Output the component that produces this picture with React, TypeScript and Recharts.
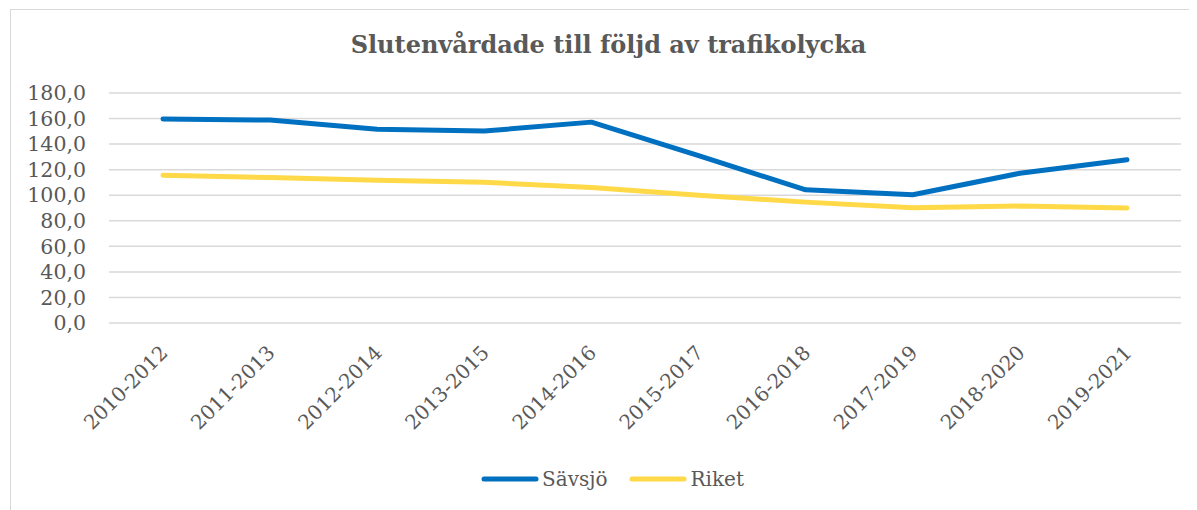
import React from "react";
import { LineChart, Line, XAxis, YAxis, CartesianGrid, Legend } from "recharts";

const categories = [
  "2010-2012", "2011-2013", "2012-2014", "2013-2015", "2014-2016",
  "2015-2017", "2016-2018", "2017-2019", "2018-2020", "2019-2021",
];
const savsjo = [159.6, 158.8, 151.6, 150.2, 157.2, 131.0, 104.2, 100.4, 117.2, 127.8];
const riket = [115.6, 113.8, 111.7, 110.1, 106.0, 100.0, 94.6, 90.2, 91.5, 90.0];
const yTicks = [0, 20, 40, 60, 80, 100, 120, 140, 160, 180];
const seriesNames = ["Sävsjö", "Riket"];
const seriesColors = ["#0070C0", "#FFD947"];

const data = categories.map((c, i) => ({ cat: c, s0: savsjo[i], s1: riket[i] }));

const FONT = "'DejaVu Serif', Georgia, serif";
const TEXT = "#595959";

const XTick = (props: any) => {
  const { x, y, payload } = props;
  return (
    <g transform={`translate(${x + 6},${y + 23})`}>
      <text
        x={0}
        y={0}
        textAnchor="end"
        transform="rotate(-45)"
        fill={TEXT}
        fontSize={20}
        fontFamily={FONT}
      >
        {payload.value}
      </text>
    </g>
  );
};

const LegendContent = (props: any) => {
  const payload = [...(props.payload || [])].sort(
    (a: any, b: any) => seriesNames.indexOf(a.value) - seriesNames.indexOf(b.value)
  );
  return (
    <div style={{ display: "flex", justifyContent: "center", alignItems: "center", paddingLeft: 20, fontFamily: FONT, fontSize: 20, color: TEXT }}>
      {payload.map((p: any, i: number) => (
        <div key={i} style={{ display: "flex", alignItems: "center", marginRight: i === 0 ? 22 : 0 }}>
          <svg width={58} height={10}>
            <line x1={3} y1={5} x2={55} y2={5} stroke={p.color} strokeWidth={5} strokeLinecap="round" />
          </svg>
          <span style={{ marginLeft: 3 }}>{p.value}</span>
        </div>
      ))}
    </div>
  );
};

export default function App() {
  return (
    <div style={{ position: "relative", width: 1189, height: 502, overflow: "hidden" }}>
      <div
        style={{
          position: "absolute",
          left: 2,
          top: 1,
          width: 1200,
          height: 520,
          border: "1px solid #d9d9d9",
          boxSizing: "border-box",
        }}
      />
      <div
        style={{
          position: "absolute",
          left: 0,
          top: 22,
          width: 1201,
          textAlign: "center",
          fontFamily: FONT,
          fontWeight: "bold",
          fontSize: 24,
          color: TEXT,
        }}
      >
        Slutenvårdade till följd av trafikolycka
      </div>
      <div style={{ position: "absolute", left: 0, top: 0 }}>
        <LineChart
          width={1189}
          height={502}
          data={data}
          margin={{ top: 85, right: 16, bottom: 0, left: 0 }}
        >
          <CartesianGrid vertical={false} stroke="#d9d9d9" strokeWidth={1.5} />
          <XAxis
            dataKey="cat"
            height={187}
            axisLine={false}
            tickLine={false}
            interval={0}
            padding={{ left: 54, right: 54 }}
            tick={<XTick />}
          />
          <YAxis
            width={101}
            domain={[0, 180]}
            ticks={yTicks}
            interval={0}
            axisLine={false}
            tickLine={false}
            tickMargin={17}
            tickFormatter={(v: number) => v.toFixed(1).replace(".", ",")}
            tick={{ fill: TEXT, fontSize: 20.5, fontFamily: FONT }}
          />
          <Legend
            layout="horizontal"
            verticalAlign="middle"
            align="center"
            wrapperStyle={{ top: 459, left: 0, width: 1189 }}
            content={<LegendContent />}
          />
          <Line
            dataKey="s0"
            name={seriesNames[0]}
            stroke={seriesColors[0]}
            strokeWidth={5}
            strokeLinecap="round"
            strokeLinejoin="round"
            dot={false}
            activeDot={false}
            isAnimationActive={false}
          />
          <Line
            dataKey="s1"
            name={seriesNames[1]}
            stroke={seriesColors[1]}
            strokeWidth={5}
            strokeLinecap="round"
            strokeLinejoin="round"
            dot={false}
            activeDot={false}
            isAnimationActive={false}
          />
        </LineChart>
      </div>
    </div>
  );
}
